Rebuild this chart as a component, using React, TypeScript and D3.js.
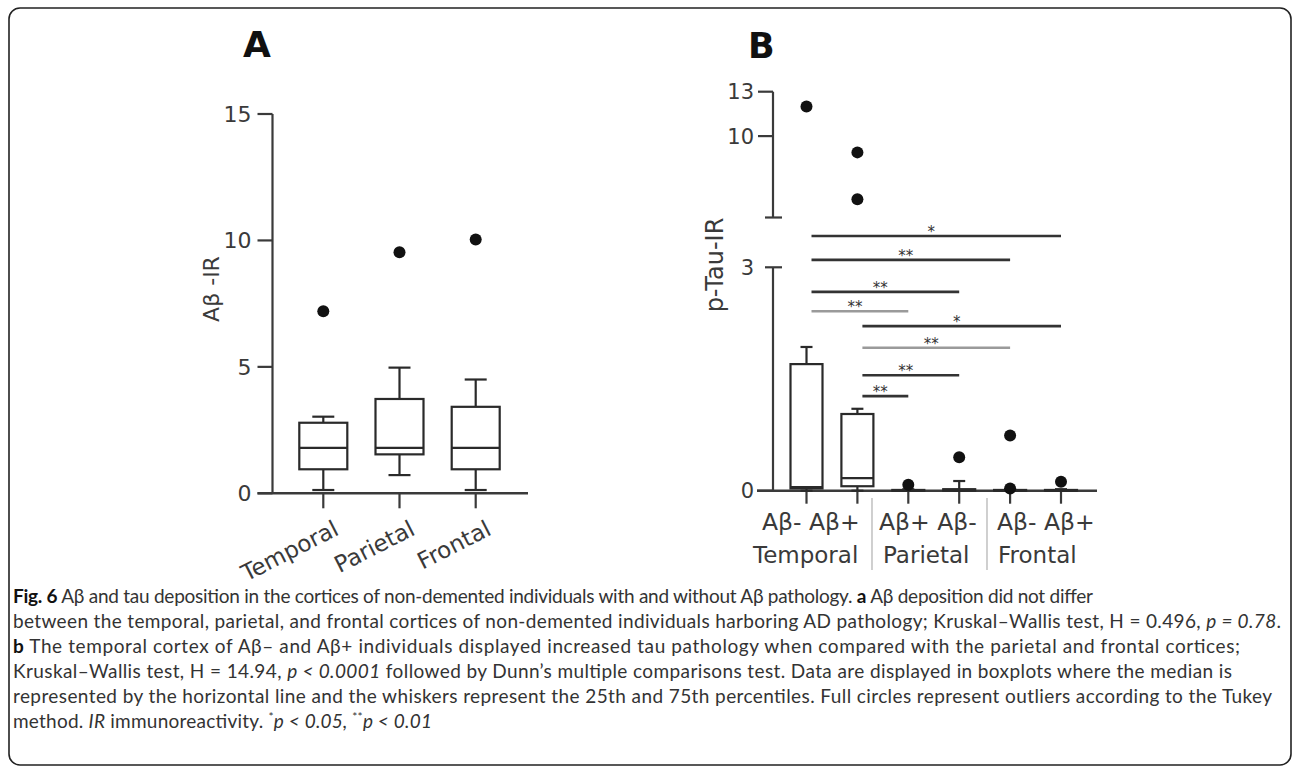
import { useEffect, useRef } from 'react'
import * as d3 from 'd3'

const W = 1292
const H = 770

// ---- panel A : Aβ-IR by cortex
const aCategories = ['Temporal', 'Parietal', 'Frontal']
const aWhiskerLow = [0.13, 0.72, 0.13]
const aQ1 = [0.95, 1.54, 0.95]
const aMedian = [1.8, 1.8, 1.8]
const aQ3 = [2.79, 3.73, 3.42]
const aWhiskerHigh = [3.03, 4.97, 4.5]
const aOutliers = [[7.2], [9.53], [10.04]]
const aTicks = [0, 5, 10, 15]

// ---- panel B : p-Tau-IR by cortex and Aβ status
const bCategories = ['Temporal Aβ-', 'Temporal Aβ+', 'Parietal Aβ+', 'Parietal Aβ-', 'Frontal Aβ-', 'Frontal Aβ+']
const bWhiskerLow = [0, 0, 0, 0, 0, 0]
const bQ1 = [0.03, 0.06, 0, 0, 0, 0]
const bMedian = [0.05, 0.17, 0, 0.01, 0, 0]
const bQ3 = [1.7, 1.03, 0.01, 0.02, 0.01, 0.01]
const bWhiskerHigh = [1.93, 1.1, 0.02, 0.13, 0.02, 0.02]
const bOutliers = [[12.0], [8.9, 5.73], [0.08], [0.45], [0.74, 0.03], [0.12]]
const bLowTicks = [0, 3]
const bHighTicks = [10, 13]
const bRegions = ['Temporal', 'Parietal', 'Frontal']
const bStatusLabels = ['Aβ- Aβ+', 'Aβ+ Aβ-', 'Aβ- Aβ+']

// Dunn's comparisons (level in lower-axis units)
const comparisons = [
	{ from: 0, to: 5, label: '*', level: 3.42, grey: false },
	{ from: 0, to: 4, label: '**', level: 3.1, grey: false },
	{ from: 0, to: 3, label: '**', level: 2.67, grey: false },
	{ from: 0, to: 2, label: '**', level: 2.41, grey: true },
	{ from: 1, to: 5, label: '*', level: 2.21, grey: false },
	{ from: 1, to: 4, label: '**', level: 1.92, grey: true },
	{ from: 1, to: 3, label: '**', level: 1.55, grey: false },
	{ from: 1, to: 2, label: '**', level: 1.27, grey: false },
]

const caption = [
	[['Fig. 6', 'b'], [' Aβ and tau deposition in the cortices of non-demented individuals with and without Aβ pathology. '], ['a', 'b'], [' Aβ deposition did not differ']],
	[['between the temporal, parietal, and frontal cortices of non-demented individuals harboring AD pathology; Kruskal–Wallis test, H = 0.496, '], ['p = 0.78', 'i'], ['.']],
	[['b', 'b'], [' The temporal cortex of Aβ– and Aβ+ individuals displayed increased tau pathology when compared with the parietal and frontal cortices;']],
	[['Kruskal–Wallis test, H = 14.94, '], ['p < 0.0001', 'i'], [' followed by Dunn’s multiple comparisons test. Data are displayed in boxplots where the median is']],
	[['represented by the horizontal line and the whiskers represent the 25th and 75th percentiles. Full circles represent outliers according to the Tukey']],
	[['method. '], ['IR', 'i'], [' immunoreactivity. '], ['*', 'sup'], ['p < 0.05, ', 'i'], ['**', 'sup'], ['p < 0.01', 'i']],
]
const captionEnds = [1093, 1281, 1240, 1232, 1272, 432]

const FONT = '"DejaVu Sans", sans-serif'
const INK = '#2a2a2a'
const LABEL = '#3a3a3a'

function boxes(g: any, x: any, y: any, cats: string[], lo: number[], q1: number[], med: number[], q3: number[], hi: number[], out: number[][], boxW: number, capW: number) {
	cats.forEach((c, i) => {
		const cx = x(c)
		const gg = g.append('g').attr('stroke', INK).attr('stroke-width', 2.2).attr('fill', 'none')
		// whiskers
		gg.append('line').attr('x1', cx).attr('x2', cx).attr('y1', y(q3[i])).attr('y2', y(hi[i]))
		gg.append('line').attr('x1', cx).attr('x2', cx).attr('y1', y(q1[i])).attr('y2', y(lo[i]))
		gg.append('line').attr('x1', cx - capW / 2).attr('x2', cx + capW / 2).attr('y1', y(hi[i])).attr('y2', y(hi[i]))
		gg.append('line').attr('x1', cx - capW / 2).attr('x2', cx + capW / 2).attr('y1', y(lo[i])).attr('y2', y(lo[i]))
		gg.append('rect')
			.attr('x', cx - boxW / 2)
			.attr('y', y(q3[i]))
			.attr('width', boxW)
			.attr('height', Math.max(0.5, y(q1[i]) - y(q3[i])))
			.attr('fill', '#fff')
		gg.append('line').attr('x1', cx - boxW / 2).attr('x2', cx + boxW / 2).attr('y1', y(med[i])).attr('y2', y(med[i]))
		out[i].forEach(v => {
			g.append('circle').attr('cx', cx).attr('cy', y(v)).attr('r', 6).attr('fill', '#111')
		})
	})
}

function drawPanelA(svg: any) {
	const x = d3.scalePoint().domain(aCategories).range([323.3, 475.7])
	const y = d3.scaleLinear().domain([0, 15]).range([493.3, 114])
	const axisX = 272.5
	const g = svg.append('g')

	g.append('text').attr('x', 243).attr('y', 57).attr('font-family', FONT).attr('font-weight', 'bold')
		.attr('font-size', 36).attr('fill', '#111').text('A')

	// y axis
	g.append('line').attr('x1', axisX).attr('x2', axisX).attr('y1', y(15)).attr('y2', y(0))
		.attr('stroke', LABEL).attr('stroke-width', 2.2)
	aTicks.forEach(t => {
		g.append('line').attr('x1', axisX - 15).attr('x2', axisX).attr('y1', y(t)).attr('y2', y(t))
			.attr('stroke', LABEL).attr('stroke-width', 2.2)
		g.append('text').attr('x', axisX - 21).attr('y', y(t) + 8).attr('text-anchor', 'end')
			.attr('font-family', FONT).attr('font-size', 22).attr('fill', LABEL).text(t)
	})
	g.append('text')
		.attr('transform', `translate(219, 289) rotate(-90)`)
		.attr('text-anchor', 'middle').attr('font-family', FONT).attr('font-size', 22).attr('fill', LABEL)
		.text('Aβ -IR')

	// x axis
	g.append('line').attr('x1', axisX - 15).attr('x2', 528).attr('y1', y(0)).attr('y2', y(0))
		.attr('stroke', LABEL).attr('stroke-width', 2.6)
	aCategories.forEach(c => {
		g.append('line').attr('x1', x(c)).attr('x2', x(c)).attr('y1', y(0)).attr('y2', y(0) + 15)
			.attr('stroke', LABEL).attr('stroke-width', 2.2)
		g.append('text')
			.attr('transform', `translate(${x(c)! + 17}, 534) rotate(-27)`)
			.attr('text-anchor', 'end').attr('font-family', FONT).attr('font-size', 23).attr('fill', LABEL)
			.text(c)
	})

	boxes(g, x, y, aCategories, aWhiskerLow, aQ1, aMedian, aQ3, aWhiskerHigh, aOutliers, 48, 22)
}

function drawPanelB(svg: any) {
	const x = d3.scalePoint().domain(bCategories).range([806.5, 1061])
	const yLow = d3.scaleLinear().domain([0, 3]).range([490.7, 267.3])
	const yHigh = d3.scaleLinear().domain([4.5, 13]).range([217.5, 91.7])
	const y = (v: number) => (v > 3.5 ? yHigh(v) : yLow(v))
	const axisX = 773
	const g = svg.append('g')

	g.append('text').attr('x', 748).attr('y', 58).attr('font-family', FONT).attr('font-weight', 'bold')
		.attr('font-size', 35).attr('fill', '#111').text('B')

	// broken y axis
	const ax = g.append('g').attr('stroke', LABEL).attr('stroke-width', 2.2)
	ax.append('line').attr('x1', axisX).attr('x2', axisX).attr('y1', yHigh(13)).attr('y2', yHigh(4.5))
	ax.append('line').attr('x1', axisX - 8).attr('x2', axisX + 9).attr('y1', yHigh(4.5)).attr('y2', yHigh(4.5))
	ax.append('line').attr('x1', axisX).attr('x2', axisX).attr('y1', yLow(3)).attr('y2', yLow(0))
	ax.append('line').attr('x1', axisX - 8).attr('x2', axisX + 9).attr('y1', yLow(3)).attr('y2', yLow(3))
	bHighTicks.forEach(t => {
		ax.append('line').attr('x1', axisX - 15).attr('x2', axisX).attr('y1', yHigh(t)).attr('y2', yHigh(t))
	})
	ax.append('line').attr('x1', axisX - 16).attr('x2', axisX).attr('y1', yLow(0)).attr('y2', yLow(0))

	const tickLabels = [...bHighTicks.map(t => [t, yHigh(t)]), ...bLowTicks.map(t => [t, yLow(t)])]
	tickLabels.forEach(([t, py]) => {
		g.append('text').attr('x', 754).attr('y', py + 7.5).attr('text-anchor', 'end')
			.attr('font-family', FONT).attr('font-size', 21).attr('fill', LABEL).text(t)
	})
	g.append('text')
		.attr('transform', `translate(723, 265) rotate(-90)`)
		.attr('text-anchor', 'middle').attr('font-family', FONT).attr('font-size', 24).attr('fill', LABEL)
		.text('p-Tau-IR')

	// x axis
	g.append('line').attr('x1', axisX - 16).attr('x2', 1097).attr('y1', yLow(0)).attr('y2', yLow(0))
		.attr('stroke', LABEL).attr('stroke-width', 2.6)
	bCategories.forEach(c => {
		g.append('line').attr('x1', x(c)).attr('x2', x(c)).attr('y1', yLow(0)).attr('y2', yLow(0) + 13)
			.attr('stroke', LABEL).attr('stroke-width', 2.2)
	})

	// category text rows and separators
	const statusX = [762, 879, 997]
	const regionX = [753, 883, 998]
	bStatusLabels.forEach((s, i) => {
		g.append('text').attr('x', statusX[i]).attr('y', 530).attr('font-family', FONT)
			.attr('font-size', 23.5).attr('fill', LABEL).text(s)
	})
	bRegions.forEach((r, i) => {
		g.append('text').attr('x', regionX[i]).attr('y', 563).attr('font-family', FONT)
			.attr('font-size', 23).attr('fill', LABEL).text(r)
	})
	;[872, 987].forEach(sx => {
		g.append('line').attr('x1', sx).attr('x2', sx).attr('y1', 498).attr('y2', 570)
			.attr('stroke', '#c4c4c4').attr('stroke-width', 1.6)
	})

	// significance bars
	comparisons.forEach(cmp => {
		const x1 = x(bCategories[cmp.from])! + 5
		const x2 = x(bCategories[cmp.to])!
		const ly = yLow(cmp.level)
		const col = cmp.grey ? '#9a9a9a' : '#333'
		g.append('line').attr('x1', x1).attr('x2', x2).attr('y1', ly).attr('y2', ly)
			.attr('stroke', col).attr('stroke-width', 2.6)
		g.append('text').attr('x', (x1 + x2) / 2 - 5).attr('y', ly + 1).attr('text-anchor', 'middle')
			.attr('font-family', FONT).attr('font-size', 15).attr('fill', '#333').text(cmp.label)
	})

	boxes(g, x, y, bCategories, bWhiskerLow, bQ1, bMedian, bQ3, bWhiskerHigh, bOutliers, 32, 12)
}

function drawCaption(svg: any) {
	const g = svg.append('g').attr('font-family', 'Lato, "Open Sans", sans-serif').attr('font-size', 19).attr('fill', '#333')
	caption.forEach((segs, i) => {
		const t = g.append('text').attr('x', 13).attr('y', 603 + i * 25)
			.attr('textLength', captionEnds[i] - 13).attr('lengthAdjust', 'spacing')
		segs.forEach(([txt, style]) => {
			const ts = t.append('tspan').text(txt)
			if (style === 'b') ts.attr('font-weight', 'bold').attr('fill', '#111')
			if (style === 'i') ts.attr('font-style', 'italic')
			if (style === 'sup') ts.attr('font-size', 12).attr('baseline-shift', '7')
		})
	})
}

export default function App() {
	const ref = useRef<SVGSVGElement>(null)

	useEffect(() => {
		const svg = d3.select(ref.current)
		svg.selectAll('*').remove()

		svg.append('rect').attr('x', 9).attr('y', 8).attr('width', 1282).attr('height', 757).attr('rx', 11)
			.attr('fill', '#fff').attr('stroke', '#222').attr('stroke-width', 1.6)

		drawPanelA(svg)
		drawPanelB(svg)
		drawCaption(svg)
	}, [])

	return (
		<svg ref={ref} width={W} height={H} style={{ position: 'absolute', left: 0, top: 0, display: 'block' }} />
	)
}
